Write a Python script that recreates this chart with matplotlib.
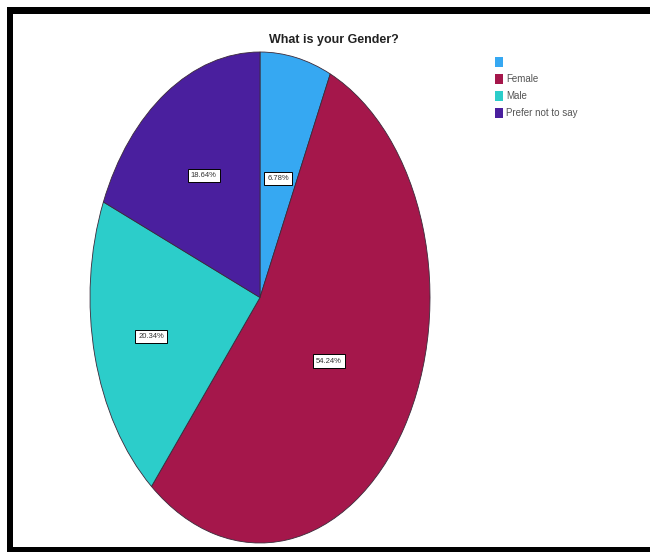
import numpy as np
import matplotlib
matplotlib.use("Agg")
import matplotlib.pyplot as plt
from matplotlib.patches import Rectangle

# dados
categories = ["", "Female", "Male", "Prefer not to say"]
percents = [6.78, 54.24, 20.34, 18.64]
colors = ["#36a8f2", "#a5174b", "#2ccdca", "#4a1f9e"]
label_radius = [0.5, 0.48, 0.66, 0.6]

FONT = ["Liberation Sans Narrow", "Liberation Sans", "DejaVu Sans"]

W, H = 650, 552
fig = plt.figure(figsize=(W / 100, H / 100), dpi=100)
fig.patch.set_facecolor("white")

# moldura preta (print do SPSS)
fig.patches.append(Rectangle((7 / W, 1 - 14 / H), 1, 7 / H, transform=fig.transFigure,
                             facecolor="black", edgecolor="none"))
fig.patches.append(Rectangle((7 / W, 0), 6 / W, 1 - 7 / H, transform=fig.transFigure,
                             facecolor="black", edgecolor="none"))
fig.patches.append(Rectangle((7 / W, 0), 1, 5 / H, transform=fig.transFigure,
                             facecolor="black", edgecolor="none"))

# pizza eliptica
ax = fig.add_axes([90 / W, 9 / H, 340 / W, 491 / H])
wedges, _ = ax.pie(percents, colors=colors, startangle=90, counterclock=False,
                   wedgeprops=dict(edgecolor="#3a2a3a", linewidth=0.6))
ax.set_aspect("auto")
ax.set_xlim(-1, 1)
ax.set_ylim(-1, 1)
ax.axis("off")

for w, p, r in zip(wedges, percents, label_radius):
    mid = np.deg2rad((w.theta1 + w.theta2) / 2)
    ax.text(r * np.cos(mid), r * np.sin(mid), f"{p:.2f}%", ha="center", va="center_baseline",
            fontsize=5.5, family=FONT, color="#333333",
            bbox=dict(boxstyle="square,pad=0.4", facecolor="white", edgecolor="black", linewidth=0.7))

fig.text(334 / W, 1 - 40 / H, "What is your Gender?", ha="center", va="center",
         fontsize=9, fontweight="bold", family=FONT, color="#222222")

# legenda
leg_y = [62, 79, 96, 113]
for cat, c, y in zip(categories, colors, leg_y):
    fig.patches.append(Rectangle((495 / W, 1 - (y + 5) / H), 8 / W, 10 / H,
                                 transform=fig.transFigure, facecolor=c, edgecolor="none"))
    fig.text(506 / W, 1 - y / H, cat, ha="left", va="center", fontsize=7,
             family=FONT, color="#555555")

fig.savefig("out.png", dpi=100)
